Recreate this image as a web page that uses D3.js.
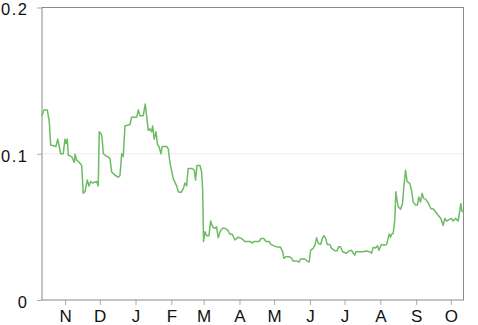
<!DOCTYPE html>
<html>
<head>
<meta charset="utf-8">
<script src="https://cdn.jsdelivr.net/npm/d3@7"></script>
<style>
    body { margin: 0; background: #fff; }
    svg { display: block; font-family: "Liberation Sans", Arial, sans-serif; }
</style>
</head>
<body>
<div id="chart"></div>
<script>
// Series: days since start of window, and value
const startDate = new Date(2012, 9, 12);
const endDate = new Date(2013, 9, 12);

const dayOffsets = [
    0, 1.7, 4.6, 6.3, 7.5, 12.1, 13.6, 14.7, 16.2, 18.4, 19.9, 20.8, 21.9, 22.8, 25.7, 28, 28.6, 30,
    32.3, 34.4, 35.7, 37.2, 39.2, 40.7, 42.2, 43.9, 47.3, 48.7, 49.6, 50.8, 51.9, 53.1, 55.4, 56.9,
    58.9, 60.3, 63.2, 66, 67.5, 69, 70.4, 71.8, 76.2, 77.6, 82, 83.4, 84.8, 87.7, 89.4, 90.6, 92,
    93.5, 95, 95.8, 97.2, 98.7, 100.1, 101.3, 103, 104.1, 107.9, 109.3, 110.8, 113.6, 116.6, 118,
    120.3, 122.3, 123.8, 125.2, 126.6, 129.6, 131.8, 133, 134.2, 136.8, 138.2, 139.1, 139.9, 141.1,
    142.6, 144.6, 146, 147.8, 149.7, 151.2, 152.6, 154.1, 156.1, 158.4, 160.7, 162.7, 164.7, 167.1,
    169.9, 172.9, 175.7, 180, 182.4, 183.5, 188.1, 189.6, 192.2, 193.9, 196.7, 198.2, 200.8, 203.2,
    206.6, 208.4, 209.5, 211.2, 214.1, 216.2, 217.5, 220.5, 222.7, 223.9, 227.6, 229.6, 231.4, 232.6,
    234.8, 236.3, 237.8, 239.2, 241.2, 243, 244.1, 245.8, 246.9, 249.3, 250.7, 253.6, 255.6, 256.8,
    258.5, 260.3, 263.7, 266, 268.1, 269.5, 270.9, 271.8, 275.3, 278.1, 281.1, 283.9, 285.4, 286.8,
    288.8, 290.6, 291.7, 294, 296.9, 298.4, 299.7, 300.6, 301.8, 302.7, 304.1, 305.5, 306.4, 307.5,
    308.4, 310.5, 312.2, 313.3, 314.8, 316.2, 318.5, 320, 321.4, 323.5, 325.2, 326.3, 327.8, 329.2,
    330.4, 332.1, 334.4, 336.7, 339.3, 341, 343, 345.4, 347.4, 348.8, 350.3, 352.3, 354.6, 356,
    358.1, 360.4, 362.7, 363.8
];

const rateValues = [
    0.126, 0.130, 0.130, 0.122, 0.106, 0.105, 0.110, 0.106, 0.100, 0.100, 0.110, 0.107, 0.110, 0.099, 0.098, 0.094, 0.0997, 0.0956,
    0.094, 0.092, 0.073, 0.074, 0.082, 0.078, 0.081, 0.080, 0.081, 0.078, 0.115, 0.114, 0.112, 0.100, 0.0985, 0.098,
    0.0967, 0.0876, 0.0853, 0.084, 0.085, 0.100, 0.098, 0.119, 0.120, 0.125, 0.125, 0.130, 0.126, 0.126, 0.134, 0.126, 0.116,
    0.117, 0.115, 0.119, 0.110, 0.115, 0.106, 0.105, 0.100, 0.105, 0.105, 0.1035, 0.094, 0.083, 0.078, 0.074,
    0.0735, 0.076, 0.080, 0.078, 0.090, 0.090, 0.089, 0.082, 0.092, 0.092, 0.0876, 0.076, 0.040, 0.0466,
    0.044, 0.044, 0.054, 0.050, 0.049, 0.050, 0.0426, 0.0466, 0.049, 0.049, 0.048, 0.045, 0.045, 0.041,
    0.043, 0.042, 0.040, 0.040, 0.039, 0.040, 0.040, 0.042, 0.042, 0.040, 0.040, 0.038, 0.037, 0.0364,
    0.036, 0.033, 0.0285, 0.0296, 0.0296, 0.0285, 0.0266, 0.0266, 0.026, 0.028, 0.028, 0.0266, 0.026, 0.034,
    0.0353, 0.0375, 0.0425, 0.0387, 0.038, 0.0425, 0.044, 0.042, 0.038, 0.038, 0.0353, 0.0337, 0.0337, 0.0364,
    0.0364, 0.033, 0.032, 0.0337, 0.034, 0.032, 0.0307, 0.033, 0.033, 0.033, 0.0335, 0.033, 0.032, 0.036,
    0.0355, 0.037, 0.034, 0.038, 0.0375, 0.038, 0.042, 0.045, 0.043, 0.045, 0.0455, 0.0546, 0.074, 0.068,
    0.064, 0.062, 0.066, 0.077, 0.0887, 0.081, 0.0797, 0.075, 0.067, 0.065, 0.065, 0.0705, 0.067, 0.073,
    0.0695, 0.069, 0.0665, 0.0626, 0.062, 0.060, 0.058, 0.0558, 0.051, 0.0558, 0.054, 0.055, 0.0558, 0.054,
    0.0558, 0.054, 0.066, 0.060
];

const yTicks = [0, 0.1, 0.2];
const yGridValues = [0.1];

const margin = { top: 7.5, right: 14.5, bottom: 25, left: 42 };
const width = 478 - margin.left - margin.right;
const height = 325 - margin.top - margin.bottom;

const data = dayOffsets.map((d, i) => ({
    date: new Date(startDate.getTime() + d * 864e5),
    value: rateValues[i]
}));

const svg = d3.select("#chart")
    .append("svg")
    .attr("width", 478)
    .attr("height", 325)
    .append("g")
    .attr("transform", `translate(${margin.left},${margin.top})`);

const x = d3.scaleTime()
    .domain([startDate, endDate])
    .range([0, width]);

const y = d3.scaleLinear()
    .domain([0, 0.2])
    .range([height, 0]);

// Light gridline at 0.1
svg.selectAll(".grid")
    .data(yGridValues)
    .enter()
    .append("line")
    .attr("class", "grid")
    .attr("x1", 0)
    .attr("x2", width)
    .attr("y1", d => y(d))
    .attr("y2", d => y(d))
    .attr("stroke", "#ebebeb")
    .attr("stroke-width", 1);

// Axes
const xAxis = svg.append("g")
    .attr("transform", `translate(0,${height})`)
    .call(d3.axisBottom(x)
        .ticks(d3.timeMonth.every(1))
        .tickFormat(d => d3.timeFormat("%b")(d)[0])
        .tickSize(5)
        .tickPadding(5));

const yAxis = svg.append("g")
    .call(d3.axisLeft(y)
        .tickValues(yTicks)
        .tickFormat(d => d === 0 ? "0" : d3.format(".1f")(d))
        .tickSize(5)
        .tickPadding(8.5));

[xAxis, yAxis].forEach(g => {
    g.select(".domain").remove();
    g.selectAll(".tick line").attr("stroke", "#aaa");
    g.selectAll(".tick text")
        .attr("fill", "#111")
        .attr("font-family", "\"Liberation Sans\", Arial, sans-serif");
});

xAxis.selectAll(".tick text").attr("font-size", "17px");

yAxis.selectAll(".tick text")
    .attr("font-size", "16.5px")
    .attr("letter-spacing", "1.5px")
    .attr("dy", "0.45em");

// Frame
svg.append("rect")
    .attr("x", 0)
    .attr("y", 0)
    .attr("width", width)
    .attr("height", height)
    .attr("fill", "none")
    .attr("stroke", "#8a8a8a")
    .attr("stroke-width", 1);

// Line
const line = d3.line()
    .x(d => x(d.date))
    .y(d => y(d.value));

svg.append("path")
    .datum(data)
    .attr("fill", "none")
    .attr("stroke", "#6dbb63")
    .attr("stroke-width", 1.5)
    .attr("stroke-linejoin", "round")
    .attr("d", line);
</script>
</body>
</html>
